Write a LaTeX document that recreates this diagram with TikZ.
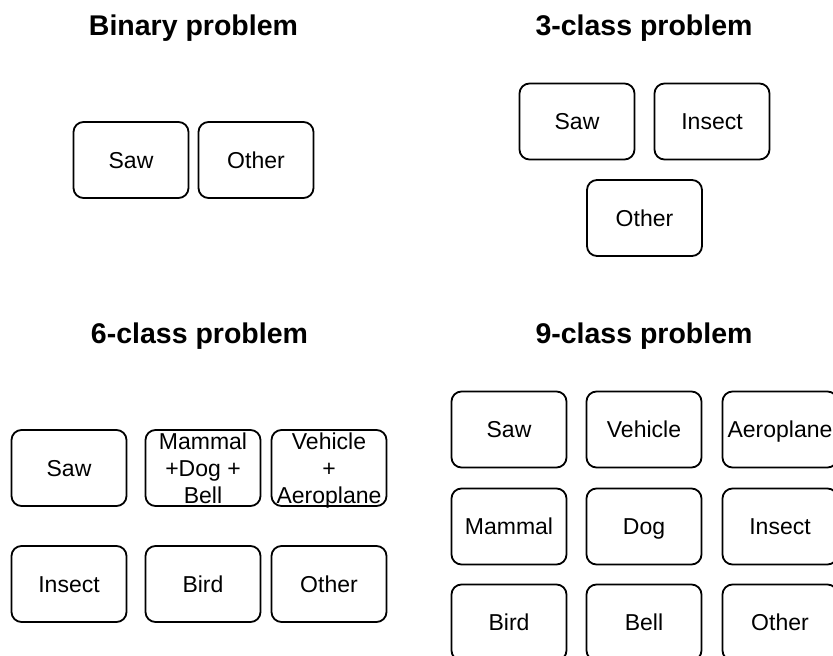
\documentclass[tikz,border=0pt]{standalone}
\usepackage{fontspec}
\setmainfont{Liberation Sans}

\tikzset{
  cls/.style={draw, line width=1.8pt, rounded corners=10pt,
    minimum width=115pt, minimum height=76pt, inner sep=0pt,
    font=\fontsize{23}{27}\selectfont, text height=16.5pt, text depth=0pt},
  clsmulti/.style={align=center, inner sep=0pt,
    font=\fontsize{23}{27}\selectfont, text depth=0pt},
  ttl/.style={anchor=base, inner sep=0pt,
    font=\fontsize{28.5}{34}\selectfont\bfseries}
}

\begin{document}
\begin{tikzpicture}[x=1pt,y=-1pt]
  \useasboundingbox (0,0) rectangle (833,656);
  \clip (0,0) rectangle (833,656);

  % binary
  \node[ttl] (t2) at (193.5,35.5) {Binary problem};
  \node[cls] (saw2) at (131,160) {Saw};
  \node[cls] (oth2) at (256,160) {Other};

  % 3 classes
  \node[ttl] (t3) at (644,35.5) {3-class problem};
  \node[cls] (saw3) at (577,121.5) {Saw};
  \node[cls] (ins3) at (712,121.5) {Insect};
  \node[cls] (oth3) at (644.5,218) {Other};

  % 6 classes
  \node[ttl] (t6) at (199.5,343.5) {6-class problem};
  \node[cls] (saw6) at (69,468) {Saw};
  \node[cls] (mam6) at (203,468) {};
  \node[clsmulti] (mamtxt) at (mam6.center) {Mammal\\+Dog +\\Bell};
  \node[cls] (veh6) at (329,468) {};
  \node[clsmulti] (vehtxt) at (veh6.center) {Vehicle\\+\\Aeroplane};
  \node[cls] (ins6) at (69,584) {Insect};
  \node[cls] (bir6) at (203,584) {Bird};
  \node[cls] (oth6) at (329,584) {Other};

  % 9 classes
  \node[ttl] (t9) at (644,343.5) {9-class problem};
  \node[cls] (saw9) at (509,429.5) {Saw};
  \node[cls] (veh9) at (644,429.5) {Vehicle};
  \node[cls] (aer9) at (780,429.5) {Aeroplane};
  \node[cls] (mam9) at (509,526.5) {Mammal};
  \node[cls] (dog9) at (644,526.5) {Dog};
  \node[cls] (ins9) at (780,526.5) {Insect};
  \node[cls] (bir9) at (509,622.5) {Bird};
  \node[cls] (bel9) at (644,622.5) {Bell};
  \node[cls] (oth9) at (780,622.5) {Other};
\end{tikzpicture}
\end{document}
